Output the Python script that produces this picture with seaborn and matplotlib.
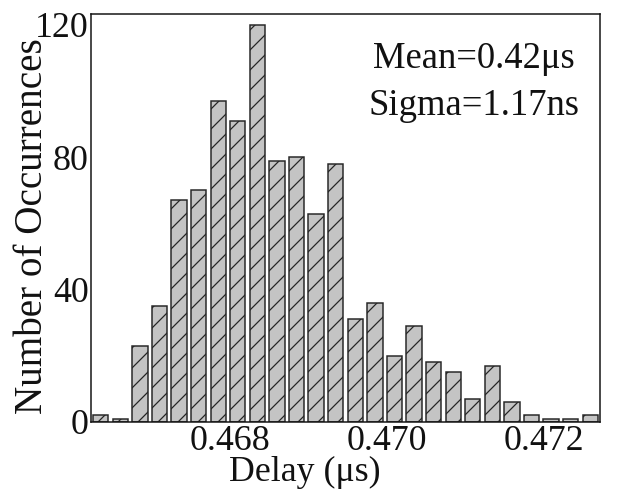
import numpy as np
import pandas as pd
import matplotlib
matplotlib.use("Agg")
import matplotlib.pyplot as plt
from matplotlib.ticker import MultipleLocator
import seaborn as sns

# Histogram of measured delays (bin centres in microseconds) and counts per bin
delay_centers = [0.466345, 0.466595, 0.466845, 0.467095, 0.467345, 0.467595,
                 0.467845, 0.468095, 0.468345, 0.468595, 0.468845, 0.469095,
                 0.469345, 0.469595, 0.469845, 0.470095, 0.470345, 0.470595,
                 0.470845, 0.471095, 0.471345, 0.471595, 0.471845, 0.472095,
                 0.472345, 0.472595]
occurrences = [2, 1, 23, 35, 67, 70, 97, 91, 120, 79, 80, 63,
               78, 31, 36, 20, 29, 18, 15, 7, 17, 6, 2, 1, 1, 2]
bin_width = 0.00025

x_ticks = [0.468, 0.470, 0.472]
x_tick_labels = ["0.468", "0.470", "0.472"]
y_ticks = [0, 40, 80, 120]
stats_lines = ["Mean=0.42\u03bcs", "Sigma=1.17ns"]

df = pd.DataFrame({"delay": delay_centers, "count": occurrences})
centers = np.asarray(delay_centers)
edges = np.append(centers - bin_width / 2, centers[-1] + bin_width / 2).tolist()

sns.set_theme(style="white")
plt.rcParams["font.family"] = ["Liberation Serif", "DejaVu Serif"]
plt.rcParams["hatch.color"] = "#262626"
plt.rcParams["hatch.linewidth"] = 0.75

TEXT = "#111111"
DPI = 120
fig = plt.figure(figsize=(619 / DPI, 493 / DPI), dpi=DPI)
ax = fig.add_axes([91 / 619, 1 - 422 / 493, (600 - 91) / 619, (422 - 14) / 493])

sns.histplot(data=df, x="delay", weights="count", bins=edges, shrink=0.78,
             color="#c4c4c4", alpha=1.0, edgecolor="#262626", linewidth=0.9,
             ax=ax)
for patch in ax.patches:
    patch.set_hatch("//")

ax.set_xlim(edges[0], edges[-1])
ax.set_ylim(0, 123.3)
ax.set_xticks(x_ticks)
ax.set_xticklabels(x_tick_labels)
ax.set_yticks(y_ticks)
ax.yaxis.set_minor_locator(MultipleLocator(20))

ax.tick_params(axis="both", which="both", direction="in", labelsize=21.5,
               colors=TEXT)
ax.tick_params(axis="x", which="major", length=0, pad=1.5)
ax.tick_params(axis="y", which="major", length=4, width=0.8, pad=1.5)
ax.tick_params(axis="y", which="minor", length=3, width=0.8)

for spine in ax.spines.values():
    spine.set_visible(True)
    spine.set_color(TEXT)
    spine.set_linewidth(0.9)

ax.set_xlabel("Delay (\u03bcs)", fontsize=21.5, color=TEXT)
ax.xaxis.label.set_va("baseline")
ax.xaxis.set_label_coords(0.420, -0.1446)

ax.set_ylabel("Number of Occurrences", fontsize=23.5, color=TEXT)
ax.yaxis.label.set_rotation_mode("anchor")
ax.yaxis.label.set_va("baseline")
ax.yaxis.set_label_coords(-0.0963, 0.480)

ax.text(0.7525, 0.8676, stats_lines[0], transform=ax.transAxes, ha="center",
        va="baseline", fontsize=22, color=TEXT)
ax.text(0.7525, 0.7525, stats_lines[1], transform=ax.transAxes, ha="center",
        va="baseline", fontsize=22, color=TEXT)

fig.savefig("out.png", dpi=DPI, facecolor="white")
